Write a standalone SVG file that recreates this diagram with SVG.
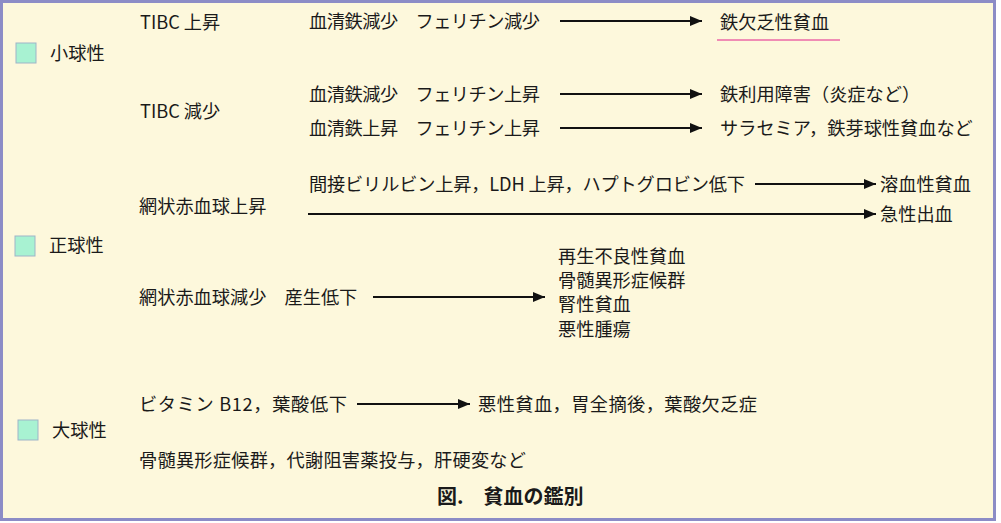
<svg xmlns="http://www.w3.org/2000/svg" width="1001" height="523" viewBox="0 0 1001 523">
<style>
text{font-family:"Noto Sans CJK JP","Noto Sans",sans-serif;font-size:18.2px;fill:#1a1a1a}
.title{font-weight:bold;font-size:20px}
.sq{fill:#a8f2d2;stroke:#9fb4c8;stroke-width:1}
.ar{stroke:#111;stroke-width:2;fill:none;marker-end:url(#ah)}
</style>
<defs>
<marker id="ah" viewBox="0 0 12 10" refX="12" refY="5" markerWidth="12" markerHeight="10" markerUnits="userSpaceOnUse" orient="auto">
<path d="M0,0 L12,5 L0,10 z" fill="#111"/>
</marker>
</defs>
<rect x="1.5" y="1.5" width="993" height="518" fill="#fdf8dc" stroke="#8c8cc6" stroke-width="3"/>

<g id="micro">
<rect class="sq" x="16" y="43" width="20" height="20"/>
<text x="50" y="60">小球性</text>
</g>
<g id="tibc-up"><text x="140" y="29">TIBC 上昇</text></g>
<g id="tibc-down"><text x="140" y="118">TIBC 減少</text></g>
<g id="r1"><text x="309" y="28" textLength="231">血清鉄減少　フェリチン減少</text></g>
<g id="r2"><text x="309" y="101" textLength="231">血清鉄減少　フェリチン上昇</text></g>
<g id="r3"><text x="309" y="135" textLength="231">血清鉄上昇　フェリチン上昇</text></g>
<g id="ida">
<text x="720" y="29">鉄欠乏性貧血</text>
<line x1="717" y1="40" x2="840" y2="40" stroke="#f08cb4" stroke-width="2"/>
</g>
<g id="iron-use"><text x="720" y="101">鉄利用障害（炎症など）</text></g>
<g id="thal"><text x="720" y="135">サラセミア，鉄芽球性貧血など</text></g>

<g id="normo">
<rect class="sq" x="15" y="236" width="20" height="20"/>
<text x="49" y="252">正球性</text>
</g>
<g id="retic-up"><text x="139" y="213">網状赤血球上昇</text></g>
<g id="hemo-signs"><text x="309" y="191" textLength="436">間接ビリルビン上昇，LDH 上昇，ハプトグロビン低下</text></g>
<g id="hemolytic"><text x="880" y="191">溶血性貧血</text></g>
<g id="acute"><text x="880" y="221">急性出血</text></g>
<g id="retic-down"><text x="139" y="304">網状赤血球減少　産生低下</text></g>
<g id="production">
<text x="558" y="263">再生不良性貧血</text>
<text x="558" y="287">骨髄異形症候群</text>
<text x="558" y="311">腎性貧血</text>
<text x="558" y="336">悪性腫瘍</text>
</g>

<g id="macro">
<rect class="sq" x="18" y="420" width="20" height="20"/>
<text x="52" y="437">大球性</text>
</g>
<g id="b12"><text x="139" y="411" textLength="208">ビタミン B12，葉酸低下</text></g>
<g id="pernicious"><text x="478" y="411" textLength="279">悪性貧血，胃全摘後，葉酸欠乏症</text></g>
<g id="other"><text x="139" y="467" textLength="387">骨髄異形症候群，代謝阻害薬投与，肝硬変など</text></g>

<g id="caption"><text class="title" x="437" y="504">図.　貧血の鑑別</text></g>

<g id="connectors">
<line class="ar" x1="560" y1="21" x2="702" y2="21"/>
<line class="ar" x1="560" y1="94" x2="702" y2="94"/>
<line class="ar" x1="560" y1="128" x2="702" y2="128"/>
<line class="ar" x1="755" y1="184" x2="876" y2="184"/>
<line class="ar" x1="308" y1="214" x2="876" y2="214"/>
<line class="ar" x1="373" y1="297" x2="545" y2="297"/>
<line class="ar" x1="357" y1="404" x2="470" y2="404"/>
</g>
</svg>
